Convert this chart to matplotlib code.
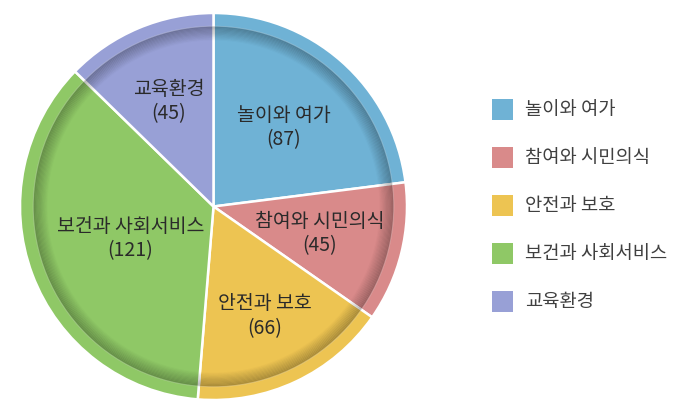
import numpy as np
import matplotlib
matplotlib.use('Agg')
import matplotlib.pyplot as plt
from matplotlib.patches import Circle, Rectangle

plt.rcParams['font.family'] = ['Noto Sans CJK KR', 'DejaVu Sans']

categories = ['놀이와 여가', '참여와 시민의식', '안전과 보호', '보건과 사회서비스', '교육환경']
values = [87, 45, 66, 121, 45]
# slice sizes as drawn in the picture (percent of the circle)
slice_share = [23.0, 11.7, 16.6, 36.0, 12.7]
colors = ['#6fb2d5', '#d98a8a', '#edc452', '#8fc866', '#98a0d6']

# distance of each label from the centre (fraction of radius)
label_r = [0.55, 0.566, 0.62, 0.458, 0.593]

fig = plt.figure(figsize=(6.92, 4.14), dpi=100)
ax = fig.add_axes([20 / 692, 13 / 414, 387 / 692, 387 / 414])
wedges, _ = ax.pie(slice_share, colors=colors, startangle=90, counterclock=False,
                   radius=1.0,
                   wedgeprops=dict(edgecolor='white', linewidth=1.8))

# inner bevel: dark ring fading inwards
r0 = 0.928
for i in range(12):
    ax.add_patch(Circle((0, 0), r0 - i * 0.006, fill=False,
                        edgecolor='black', linewidth=1.2,
                        alpha=0.2 * (1 - i / 12.0), zorder=3))
ax.add_patch(Circle((0, 0), r0 + 0.004, fill=False, edgecolor='white',
                    linewidth=0.6, alpha=0.25, zorder=3))

for w, name, val, r in zip(wedges, categories, values, label_r):
    ang = np.deg2rad((w.theta1 + w.theta2) / 2)
    ax.text(r * np.cos(ang), r * np.sin(ang), '%s\n(%d)' % (name, val),
            ha='center', va='center', fontsize=14, color='#2a2a2a',
            fontweight='medium', linespacing=1.2, zorder=5)

ax.set_xlim(-1, 1)
ax.set_ylim(-1, 1)
ax.set_aspect('equal')
ax.axis('off')

# legend
lx, ly0, dy = 492, 110, 48
for i, (name, c) in enumerate(zip(categories, colors)):
    y = ly0 + i * dy
    fig.patches.append(Rectangle((lx / 692, (414 - y - 10.5) / 414), 21 / 692, 21 / 414,
                                 transform=fig.transFigure, facecolor=c,
                                 edgecolor='none'))
    fig.text(525 / 692, (414 - y) / 414, name, ha='left', va='center',
             fontsize=13.5, color='#404040')

fig.savefig('out.png', dpi=100)
